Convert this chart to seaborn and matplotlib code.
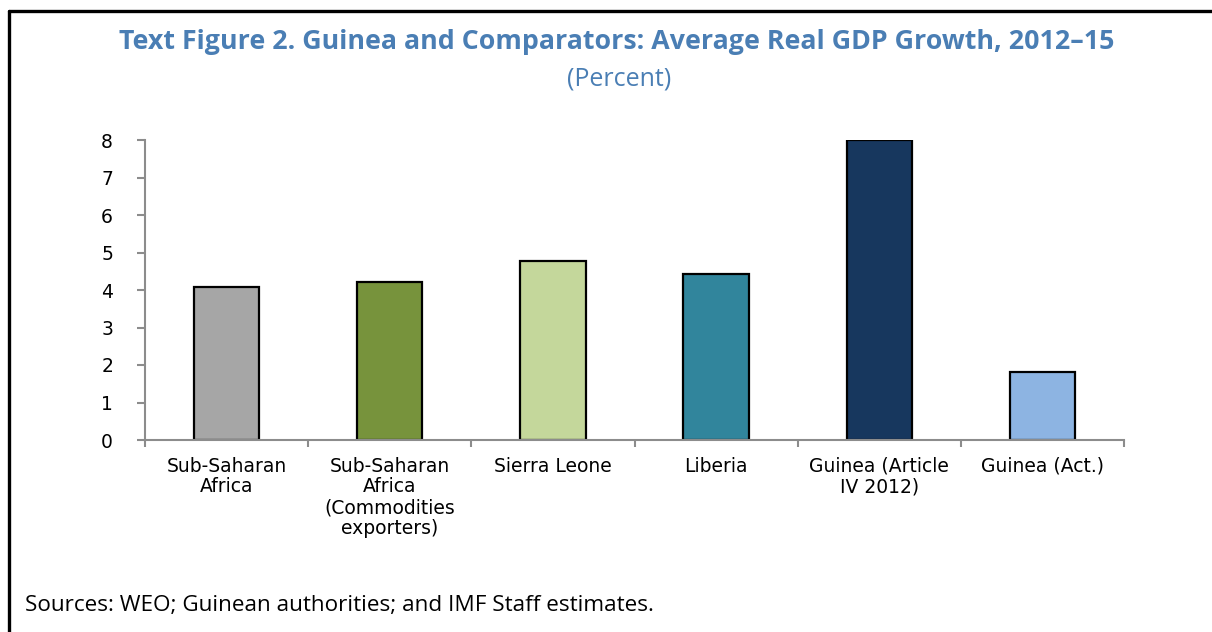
import matplotlib
matplotlib.use("Agg")
import matplotlib.pyplot as plt
from matplotlib.lines import Line2D
import seaborn as sns
import pandas as pd

# Average real GDP growth, 2012-15 (percent)
categories = [
    "Sub-Saharan Africa",
    "Sub-Saharan Africa (Commodities exporters)",
    "Sierra Leone",
    "Liberia",
    "Guinea (Article IV 2012)",
    "Guinea (Act.)",
]
tick_labels = [
    "Sub-Saharan\nAfrica",
    "Sub-Saharan\nAfrica\n(Commodities\nexporters)",
    "Sierra Leone",
    "Liberia",
    "Guinea (Article\nIV 2012)",
    "Guinea (Act.)",
]
growth = [4.08, 4.21, 4.77, 4.42, 8.0, 1.81]
bar_colors = ["#A6A6A6", "#77933C", "#C4D79B", "#31859C", "#17375E", "#8DB4E2"]

y_ticks = [0, 1, 2, 3, 4, 5, 6, 7, 8]

title = "Text Figure 2. Guinea and Comparators: Average Real GDP Growth, 2012–15"
subtitle = "(Percent)"
source_note = "Sources: WEO; Guinean authorities; and IMF Staff estimates."

sns.set_theme(style="white")
plt.rcParams["font.family"] = ["DejaVu Sans"]

df = pd.DataFrame({"category": categories, "growth": growth})

fig = plt.figure(figsize=(12.12, 6.32), dpi=100)
ax = fig.add_axes([145 / 1212, 192 / 632, 979 / 1212, 300 / 632])

sns.barplot(
    data=df, x="category", y="growth", hue="category",
    palette=bar_colors, legend=False, width=0.4,
    edgecolor="black", linewidth=1.6, ax=ax, saturation=1,
)

axis_grey = "#8C8C8C"
ax.set_xlim(-0.5, len(categories) - 0.5)
ax.set_ylim(0, 8)
ax.set_yticks(y_ticks)
ax.set_yticklabels([str(t) for t in y_ticks], fontsize=13.5, color="black")
ax.set_xticks(range(len(categories)))
ax.set_xticklabels(tick_labels, fontsize=13.5, color="black", linespacing=1.12)
ax.set_xticks([i - 0.5 for i in range(len(categories) + 1)], minor=True)

ax.tick_params(axis="x", which="major", length=0, pad=12)
ax.tick_params(axis="x", which="minor", length=5, width=1.5, color=axis_grey,
               direction="out", bottom=True)
ax.tick_params(axis="y", which="major", length=6, width=1.5, color=axis_grey,
               direction="out", left=True, pad=17)

for side in ("top", "right"):
    ax.spines[side].set_visible(False)
for side in ("left", "bottom"):
    ax.spines[side].set_color(axis_grey)
    ax.spines[side].set_linewidth(1.5)

ax.set_xlabel("")
ax.set_ylabel("")
ax.grid(False)

title_color = "#4A7EB4"
fig.text(617 / 1212, 1 - 42 / 632, title, ha="center", va="center",
         fontsize=19.3, fontweight="bold", color=title_color, family=["Open Sans"])
fig.text(619 / 1212, 1 - 79 / 632, subtitle, ha="center", va="center",
         fontsize=18, color=title_color, family=["Open Sans"])
fig.text(25 / 1212, 1 - 606 / 632, source_note, ha="left", va="center",
         fontsize=16.2, color="black", family=["Open Sans"])

# frame lines along the top and left edges
fig.add_artist(Line2D([9 / 1212, 1.0], [1 - 11 / 632, 1 - 11 / 632],
                      transform=fig.transFigure, color="black", linewidth=2.4))
fig.add_artist(Line2D([9 / 1212, 9 / 1212], [1 - 11 / 632, 0.0],
                      transform=fig.transFigure, color="black", linewidth=2.4))

fig.savefig("out.png", dpi=100)
